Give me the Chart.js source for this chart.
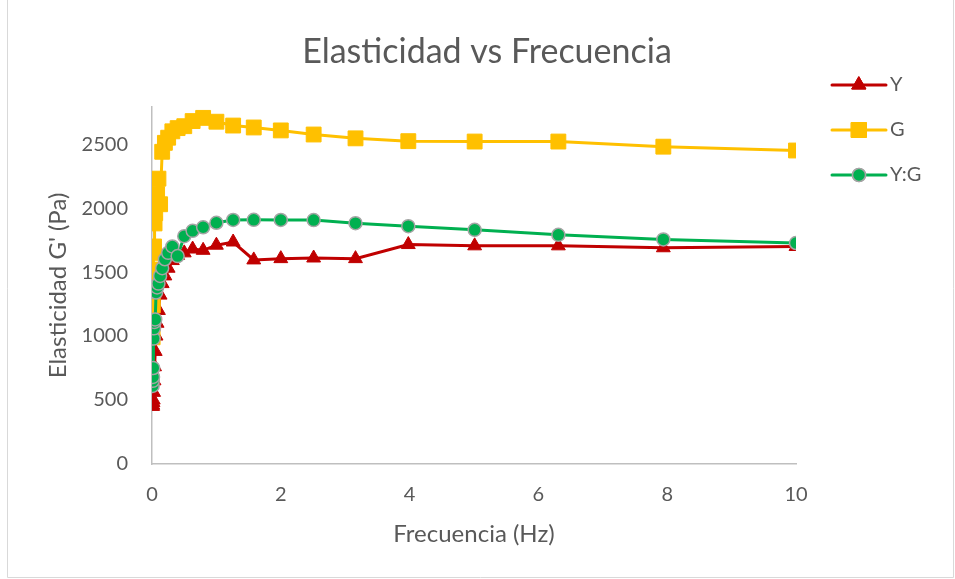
<!DOCTYPE html>
<html>
<head>
<meta charset="utf-8">
<script src="https://cdn.jsdelivr.net/npm/chart.js@4.4.1/dist/chart.umd.min.js"></script>
<style>
  html, body { margin: 0; padding: 0; background: #fff; }
  #wrap { width: 955px; height: 579px; position: relative; }
</style>
</head>
<body>
<div id="wrap"><canvas id="myChart1" width="955" height="579"></canvas></div>
<script>
const frecuencia = [0.01, 0.0126, 0.0158, 0.02, 0.0251, 0.0316, 0.0398, 0.0501, 0.0631, 0.0794,
    0.1, 0.126, 0.158, 0.2, 0.251, 0.316, 0.398, 0.501, 0.631, 0.794,
    1, 1.26, 1.58, 2, 2.51, 3.16, 3.98, 5.01, 6.31, 7.94, 10]

const serieY = [450, 460, 480, 500, 560, 650, 760, 880, 1000, 1100,
    1200, 1320, 1410, 1470, 1530, 1590, 1630, 1650, 1680, 1670,
    1710, 1735, 1595, 1605, 1610, 1605, 1715, 1705, 1705, 1690, 1700]

const serieG = [990, 1240, 1450, 1520, 1650, 1700, 1880, 1960, 2040, 2110,
    2230, 2030, 2440, 2510, 2550, 2600, 2625, 2640, 2680, 2705,
    2675, 2645, 2630, 2607, 2575, 2545, 2523, 2520, 2520, 2480, 2450]

const serieYG = [610, 650, 680, 750, 980, 1060, 1110, 1130, 1340, 1380,
    1410, 1470, 1530, 1600, 1650, 1700, 1625, 1780, 1822, 1850,
    1885, 1907, 1908, 1907, 1906, 1882, 1859, 1830, 1791, 1755, 1727]

const xTicks = [0, 2, 4, 6, 8, 10]
const yTicks = [0, 500, 1000, 1500, 2000, 2500]

const gris = '#595959'
const fuente = 'Lato, "Open Sans", sans-serif'
const titulo = 'Elasticidad vs Frecuencia'

const toPoints = vals => vals.map((v, i) => ({ x: frecuencia[i], y: v }))

const series = [
    { label: 'Y', data: serieY, color: '#c00000', style: 'triangle', radius: 8, border: '#c00000', bw: 1, order: 2 },
    { label: 'G', data: serieG, color: '#ffc000', style: 'rect', radius: 10.5, border: '#ffc000', bw: 1, order: 1 },
    { label: 'Y:G', data: serieYG, color: '#00b050', style: 'circle', radius: 6.5, border: '#a5a5a5', bw: 1.5, order: 0 }
]

// title, legend (line + marker) and outer frame, like the excel chart
const decoPlugin = {
    id: 'deco',
    afterDraw(chart) {
        const ctx = chart.ctx
        ctx.save()
        ctx.fillStyle = gris
        ctx.font = '34px ' + fuente
        ctx.textAlign = 'center'
        ctx.textBaseline = 'middle'
        ctx.fillText(titulo, 487, 52)
        ctx.restore()

        const x0 = 832, x1 = 886
        series.forEach((s, i) => {
            const y = 85 + i * 45
            ctx.save()
            ctx.strokeStyle = s.color
            ctx.lineWidth = 3
            ctx.lineCap = 'round'
            ctx.beginPath()
            ctx.moveTo(x0, y)
            ctx.lineTo(x1, y)
            ctx.stroke()
            ctx.fillStyle = s.color
            ctx.strokeStyle = s.border
            ctx.lineWidth = s.bw
            Chart.helpers.drawPoint(ctx, { pointStyle: s.style, radius: s.radius, borderWidth: s.bw }, (x0 + x1) / 2, y)
            ctx.fill()
            if (s.bw) ctx.stroke()
            ctx.fillStyle = gris
            ctx.font = '20px ' + fuente
            ctx.textBaseline = 'middle'
            ctx.fillText(s.label, 890, y)
            ctx.restore()
        })

        ctx.save()
        ctx.strokeStyle = '#d9d9d9'
        ctx.lineWidth = 1
        ctx.beginPath()
        ctx.moveTo(7.5, -1)
        ctx.lineTo(7.5, 577.5)
        ctx.lineTo(953.5, 577.5)
        ctx.lineTo(953.5, -1)
        ctx.stroke()
        ctx.restore()
    }
}

new Chart('myChart1', {
    type: 'scatter',
    data: {
        datasets: series.map(s => ({
            label: s.label,
            data: toPoints(s.data),
            showLine: true,
            borderColor: s.color,
            backgroundColor: s.color,
            borderWidth: 3,
            pointStyle: s.style,
            pointRadius: s.radius,
            pointBackgroundColor: s.color,
            pointBorderColor: s.border,
            pointBorderWidth: s.bw,
            order: s.order
        }))
    },
    options: {
        responsive: false,
        animation: false,
        layout: { padding: { left: 8, right: 159, top: 107, bottom: 0 } },
        plugins: {
            legend: { display: false },
            tooltip: { enabled: false },
            title: { display: false }
        },
        scales: {
            x: {
                type: 'linear',
                min: 0,
                max: 10,
                afterBuildTicks: axis => { axis.ticks = xTicks.map(v => ({ value: v })) },
                afterFit: scale => { scale.height = 115 },
                grid: { display: false, drawTicks: false },
                border: { display: true, color: '#bfbfbf', width: 1.5 },
                ticks: { color: gris, padding: 19, font: { family: fuente, size: 20 }, callback: v => String(v) },
                title: {
                    display: true,
                    text: 'Frecuencia (Hz)',
                    color: gris,
                    font: { family: fuente, size: 24 },
                    padding: { top: 0, bottom: 30 }
                }
            },
            y: {
                min: 0,
                max: 2790,
                afterBuildTicks: axis => { axis.ticks = yTicks.map(v => ({ value: v })) },
                afterFit: scale => { scale.width = 144 },
                grid: { display: false, drawTicks: false },
                border: { display: true, color: '#bfbfbf', width: 1.5 },
                ticks: { color: gris, padding: 24, font: { family: fuente, size: 20 }, callback: v => String(v) },
                title: {
                    display: true,
                    text: "Elasticidad G' (Pa)",
                    color: gris,
                    font: { family: fuente, size: 24 },
                    padding: { top: 36, bottom: 0 }
                }
            }
        }
    },
    plugins: [decoPlugin]
})
</script>
</body>
</html>
